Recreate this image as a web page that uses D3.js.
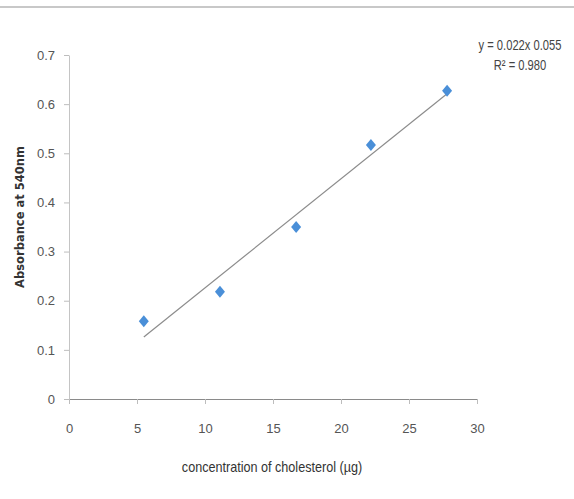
<!DOCTYPE html>
<html>
<head>
<meta charset="utf-8">
<script src="https://cdn.jsdelivr.net/npm/d3@7"></script>
<style>
  body { margin: 0; background: #fff; }
  text { font-family: "Liberation Sans Narrow", "Liberation Sans", Arial, sans-serif; }
</style>
</head>
<body>
<div id="chart"></div>
<script>
// data
const concentration = [5.5, 11.1, 16.7, 22.2, 27.8];
const absorbance = [0.158, 0.218, 0.35, 0.517, 0.627];
const xTicks = [0, 5, 10, 15, 20, 25, 30];
const yTicks = [0, 0.1, 0.2, 0.3, 0.4, 0.5, 0.6, 0.7];
const equationLines = ["y = 0.022x 0.055", "R\u00B2 = 0.980"];

const width = 574;
const height = 499;

const svg = d3.select("#chart")
  .append("svg")
  .attr("width", width)
  .attr("height", height);

// gray rule across the top
svg.append("line")
  .attr("x1", 0).attr("x2", width)
  .attr("y1", 7).attr("y2", 7)
  .attr("stroke", "#c8c8c8")
  .attr("stroke-width", 2);

const xScale = d3.scaleLinear().domain([0, 30]).range([69, 477]);
const yScale = d3.scaleLinear().domain([0, 0.7]).range([399, 55]);

// x axis
const xAxis = svg.append("g")
  .attr("transform", `translate(0, ${yScale(0)})`)
  .call(d3.axisBottom(xScale).tickValues(xTicks).tickSize(5).tickPadding(20).tickSizeOuter(0));
xAxis.select(".domain").attr("stroke", "#8a8a8a");
xAxis.selectAll(".tick line").attr("stroke", "#bdbdbd");
xAxis.selectAll(".tick text").attr("fill", "#555").style("font-size", "13px");

// y axis
const yAxis = svg.append("g")
  .attr("transform", `translate(${xScale(0)}, 0)`)
  .call(d3.axisLeft(yScale).tickValues(yTicks).tickSize(5).tickPadding(9).tickSizeOuter(0)
    .tickFormat(d => d === 0 ? "0" : d3.format(".1f")(d)));
yAxis.select(".domain").attr("stroke", "#c4c4c4");
yAxis.selectAll(".tick line").attr("stroke", "#bdbdbd");
yAxis.selectAll(".tick text").attr("fill", "#555").style("font-size", "13px");

// linear trend line fitted to the points
const n = concentration.length;
const mx = d3.mean(concentration);
const my = d3.mean(absorbance);
let sxy = 0, sxx = 0;
for (let i = 0; i < n; i++) {
  sxy += (concentration[i] - mx) * (absorbance[i] - my);
  sxx += (concentration[i] - mx) ** 2;
}
const slope = sxy / sxx;
const intercept = my - slope * mx;
const xEnds = d3.extent(concentration);

svg.append("line")
  .attr("x1", xScale(xEnds[0]))
  .attr("y1", yScale(slope * xEnds[0] + intercept))
  .attr("x2", xScale(xEnds[1]))
  .attr("y2", yScale(slope * xEnds[1] + intercept))
  .attr("stroke", "#8c8c8c")
  .attr("stroke-width", 1.2);

// diamond markers
svg.selectAll(".pt")
  .data(concentration)
  .enter()
  .append("path")
  .attr("class", "pt")
  .attr("d", "M0,-6L5,0L0,6L-5,0Z")
  .attr("transform", (d, i) => `translate(${xScale(d)}, ${yScale(absorbance[i])})`)
  .attr("fill", "#4a8fd8");

// equation text, squeezed horizontally to look like the narrow face
svg.selectAll(".eq")
  .data(equationLines)
  .enter()
  .append("text")
  .attr("class", "eq")
  .attr("transform", (d, i) => `translate(520, ${50 + i * 20}) scale(0.8, 1)`)
  .attr("text-anchor", "middle")
  .attr("fill", "#444")
  .style("font-size", "14px")
  .text(d => d);

// axis titles
svg.append("text")
  .attr("transform", "translate(272, 472) scale(0.87, 1)")
  .attr("text-anchor", "middle")
  .attr("fill", "#333")
  .style("font-size", "14.5px")
  .text("concentration of cholesterol (\u00B5g)");

svg.append("text")
  .attr("transform", "translate(24, 217) rotate(-90)")
  .attr("text-anchor", "middle")
  .attr("fill", "#333")
  .style("font-family", "'DejaVu Sans', sans-serif")
  .style("font-weight", "bold")
  .style("font-size", "11.5px")
  .text("Absorbance at 540nm");
</script>
</body>
</html>
